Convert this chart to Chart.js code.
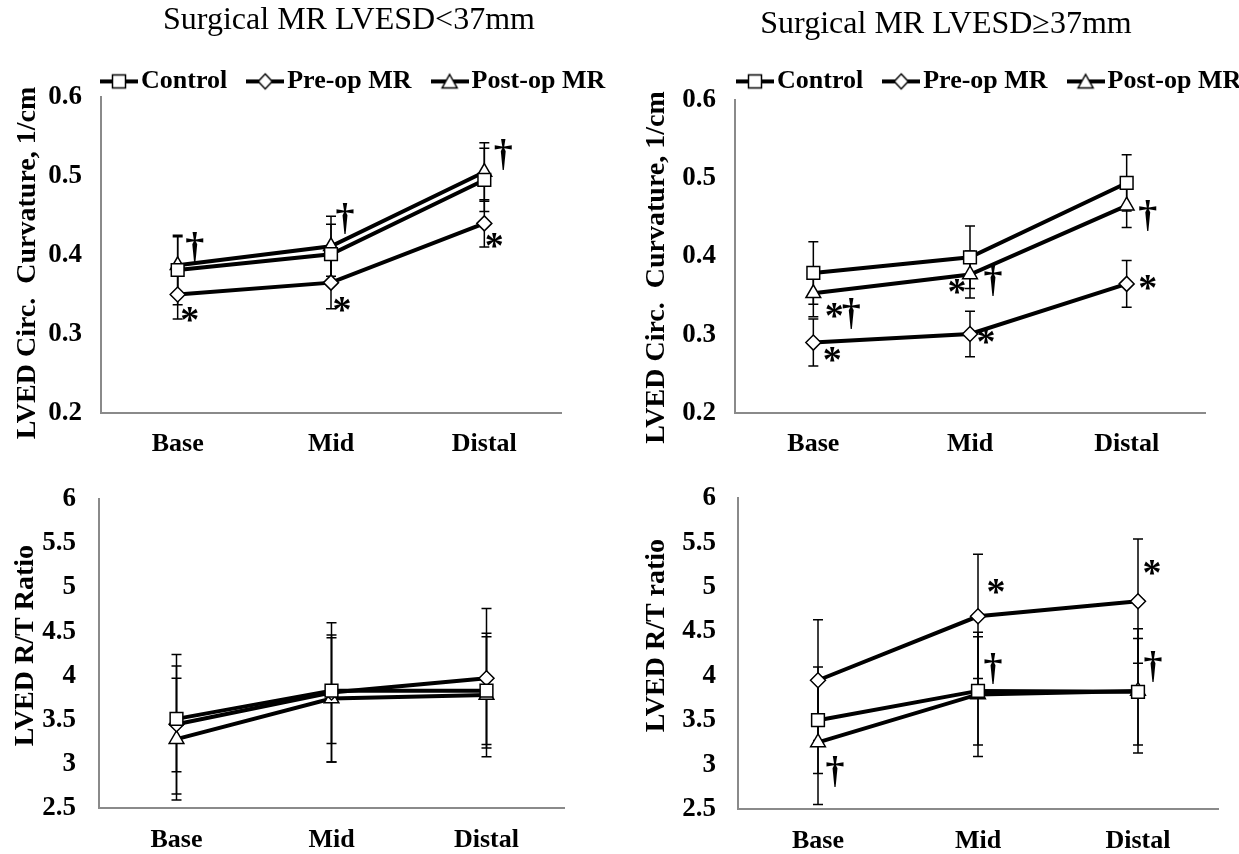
<!DOCTYPE html>
<html>
<head>
<meta charset="utf-8">
<script src="https://cdn.jsdelivr.net/npm/chart.js@4.4.1/dist/chart.umd.min.js"></script>
<style>
html, body { margin:0; padding:0; background:#fff; width:1239px; height:854px; overflow:hidden; position:relative; }
canvas { position:absolute; }
</style>
</head>
<body>
<canvas id="tl" width="620" height="460" style="left:0px;top:0px"></canvas>
<canvas id="tr" width="619" height="460" style="left:620px;top:0px"></canvas>
<canvas id="bl" width="620" height="394" style="left:0px;top:460px"></canvas>
<canvas id="br" width="619" height="394" style="left:620px;top:460px"></canvas>
<script>
// ---------------- data ----------------
const categories = ['Base', 'Mid', 'Distal'];
const seriesNames = ['Control', 'Pre-op MR', 'Post-op MR'];
const curvatureTicks = [0.2, 0.3, 0.4, 0.5, 0.6];
const ratioTicks = [2.5, 3, 3.5, 4, 4.5, 5, 5.5, 6];

// Surgical MR LVESD<37mm : curvature
const curvSmallControl = [0.381, 0.401, 0.495];
const curvSmallControlSD = [0.044, 0.038, 0.040];
const curvSmallPre = [0.350, 0.365, 0.440];
const curvSmallPreSD = [0.031, 0.033, 0.030];
const curvSmallPost = [0.387, 0.411, 0.505];
const curvSmallPostSD = [0.036, 0.038, 0.037];

// Surgical MR LVESD>=37mm : curvature
const curvLargeControl = [0.379, 0.399, 0.494];
const curvLargeControlSD = [0.040, 0.040, 0.036];
const curvLargePre = [0.290, 0.301, 0.365];
const curvLargePreSD = [0.030, 0.029, 0.030];
const curvLargePost = [0.353, 0.377, 0.465];
const curvLargePostSD = [0.030, 0.030, 0.028];

// Surgical MR LVESD<37mm : R/T ratio
const ratioSmallControl = [3.51, 3.83, 3.83];
const ratioSmallControlSD = [0.60, 0.60, 0.61];
const ratioSmallPre = [3.45, 3.81, 3.97];
const ratioSmallPreSD = [0.79, 0.79, 0.79];
const ratioSmallPost = [3.28, 3.74, 3.78];
const ratioSmallPostSD = [0.69, 0.72, 0.70];

// Surgical MR LVESD>=37mm : R/T ratio
const ratioLargeControl = [3.50, 3.83, 3.82];
const ratioLargeControlSD = [0.60, 0.61, 0.60];
const ratioLargePre = [3.95, 4.67, 4.84];
const ratioLargePreSD = [0.68, 0.70, 0.70];
const ratioLargePost = [3.25, 3.79, 3.83];
const ratioLargePostSD = [0.70, 0.70, 0.70];

// significance marks: [series index, category index, symbol]
const marksCurvSmall = [[2,0,'†'],[1,0,'*'],[2,1,'†'],[1,1,'*'],[2,2,'†'],[1,2,'*']];
const marksCurvLarge = [[2,0,'*'],[2,0,'†'],[1,0,'*'],[2,1,'*'],[2,1,'†'],[1,1,'*'],[2,2,'†'],[1,2,'*']];
const marksRatioSmall = [];
const marksRatioLarge = [[2,0,'†'],[1,1,'*'],[2,1,'†'],[1,2,'*'],[2,2,'†']];

// ---------------- styling / helpers ----------------
const FONT = "'Liberation Serif', 'Times New Roman', serif";
Chart.defaults.font.family = FONT;
Chart.defaults.color = '#000';
const AXIS_GRAY = '#8a8a8a';
const pointShapes = ['rect', 'rectRot', 'triangle'];
const pointRadii = [9, 7.5, 8.5];

function legendSymbol(shape) {
  const c = document.createElement('canvas');
  c.width = 38; c.height = 20;
  const g = c.getContext('2d');
  g.strokeStyle = '#000';
  g.lineWidth = 4;
  g.beginPath(); g.moveTo(0, 10); g.lineTo(38, 10); g.stroke();
  g.fillStyle = '#fff';
  g.lineWidth = 1.5;
  g.beginPath();
  if (shape === 'rect') {
    g.rect(12.5, 3.5, 13, 13);
  } else if (shape === 'rectRot') {
    g.moveTo(19, 2.5); g.lineTo(26, 10); g.lineTo(19, 17.5); g.lineTo(12, 10); g.closePath();
  } else {
    g.moveTo(19, 3); g.lineTo(26.5, 16.5); g.lineTo(11.5, 16.5); g.closePath();
  }
  g.fill(); g.stroke();
  return c;
}
const legendImages = pointShapes.map(legendSymbol);

const errorBarPlugin = {
  id: 'errorBars',
  beforeDatasetsDraw(chart, args, opts) {
    const ctx = chart.ctx, xs = chart.scales.x, ys = chart.scales.y;
    ctx.save();
    ctx.strokeStyle = '#000';
    ctx.lineWidth = opts.width || 1.5;
    const cap = opts.cap || 5;
    chart.data.datasets.forEach(ds => {
      if (!ds.errors) return;
      ds.data.forEach((v, j) => {
        const px = xs.getPixelForValue(j);
        const top = ys.getPixelForValue(v + ds.errors[j]);
        const bot = ys.getPixelForValue(v - ds.errors[j]);
        ctx.beginPath();
        ctx.moveTo(px, top); ctx.lineTo(px, bot);
        ctx.moveTo(px - cap, top); ctx.lineTo(px + cap, top);
        ctx.moveTo(px - cap, bot); ctx.lineTo(px + cap, bot);
        ctx.stroke();
      });
    });
    ctx.restore();
  }
};

const marksPlugin = {
  id: 'sigMarks',
  afterDatasetsDraw(chart, args, opts) {
    if (!opts.marks || !opts.marks.length) return;
    const ctx = chart.ctx, xs = chart.scales.x, ys = chart.scales.y;
    ctx.save();
    ctx.fillStyle = '#000';
    ctx.font = 'bold ' + opts.size + 'px ' + FONT;
    ctx.textAlign = 'left';
    ctx.textBaseline = 'alphabetic';
    opts.marks.forEach((m, k) => {
      const [si, ci, sym] = m;
      const off = opts.offsets[k];
      const v = chart.data.datasets[si].data[ci];
      const cx = xs.getPixelForValue(ci) + off[0];
      const cy = ys.getPixelForValue(v) + off[1];
      const mt = ctx.measureText(sym);
      const w = mt.actualBoundingBoxRight + mt.actualBoundingBoxLeft;
      const x = cx - w / 2 + mt.actualBoundingBoxLeft;
      const y = cy + (mt.actualBoundingBoxAscent - mt.actualBoundingBoxDescent) / 2;
      ctx.fillText(sym, x, y);
    });
    ctx.restore();
  }
};

const shiftPlugin = {
  id: 'boxShift',
  afterLayout(chart, args, opts) {
    if (opts.titleDx && chart.titleBlock) {
      chart.titleBlock.left += opts.titleDx;
      chart.titleBlock.right += opts.titleDx;
    }
    if (opts.legendDx && chart.legend) {
      chart.legend.left += opts.legendDx;
      chart.legend.right += opts.legendDx;
    }
    const ys = chart.scales.y;
    const dy = opts.yTitleDy || 0;
    if (ys && dy && !ys._titleShifted) {
      const baseDraw = Object.getPrototypeOf(ys).drawTitle;
      ys.drawTitle = function () {
        const t = this.top, b = this.bottom;
        this.top = t + dy; this.bottom = b + dy;
        baseDraw.call(this);
        this.top = t; this.bottom = b;
      };
      ys._titleShifted = true;
    }
  }
};

function buildPanel(id, cfg) {
  const datasets = seriesNames.map((name, i) => ({
    label: name,
    data: cfg.means[i],
    errors: cfg.sds[i],
    borderColor: '#000',
    backgroundColor: '#fff',
    borderWidth: 4,
    pointStyle: pointShapes[i],
    pointRadius: pointRadii[i],
    pointHoverRadius: pointRadii[i],
    pointBackgroundColor: '#fff',
    pointBorderColor: '#000',
    pointBorderWidth: 1.5,
    fill: false,
    tension: 0
  }));
  return new Chart(document.getElementById(id), {
    type: 'line',
    data: { labels: categories, datasets },
    plugins: [errorBarPlugin, marksPlugin, shiftPlugin],
    options: {
      responsive: false,
      animation: false,
      events: [],
      layout: { padding: { top: cfg.padTop || 0, left: 0, right: 0, bottom: 0 } },
      scales: {
        x: {
          type: 'category',
          offset: true,
          grid: { display: true, drawOnChartArea: false, drawTicks: false },
          border: { display: true, color: AXIS_GRAY, width: 2 },
          ticks: { font: { size: 26, weight: 'bold' }, color: '#000', padding: cfg.xPad, maxRotation: 0, autoSkip: false },
          afterFit(s) { s.height = cfg.xHeight; }
        },
        y: {
          type: 'linear',
          position: 'left',
          min: cfg.ticks[0],
          max: cfg.ticks[cfg.ticks.length - 1],
          afterBuildTicks(s) { s.ticks = cfg.ticks.map(v => ({ value: v })); },
          grid: { display: true, drawOnChartArea: false, drawTicks: false },
          border: { display: true, color: AXIS_GRAY, width: 2 },
          ticks: { font: { size: 27, weight: 'bold' }, color: '#000', padding: cfg.yPad,
                   callback: v => String(Math.round(v * 10) / 10) },
          title: { display: true, text: cfg.yTitle, color: '#000',
                   font: { size: 28, weight: 'bold' }, padding: { top: cfg.yTitlePad, bottom: 0 } },
          afterFit(s) { s.width = cfg.yWidth; }
        },
        yR: {
          type: 'linear',
          position: 'right',
          display: true,
          grid: { display: false, drawTicks: false },
          border: { display: false },
          ticks: { display: false },
          afterFit(s) { s.width = cfg.rightWidth; }
        }
      },
      plugins: {
        title: {
          display: !!cfg.title,
          text: cfg.title || '',
          color: '#000',
          font: { size: 32, weight: 'normal' },
          padding: { top: cfg.titlePadTop || 0, bottom: cfg.titlePadBottom || 0 }
        },
        legend: {
          display: !!cfg.legend,
          position: 'top',
          align: 'start',
          maxHeight: cfg.legendMaxH,
          labels: {
            usePointStyle: true,
            pointStyleWidth: 18,
            padding: 29,
            color: '#000',
            font: { size: 26, weight: 'bold' },
            generateLabels(chart) {
              const items = Chart.defaults.plugins.legend.labels.generateLabels(chart);
              items.forEach((it, i) => { it.pointStyle = legendImages[i]; });
              return items;
            }
          }
        },
        tooltip: { enabled: false },
        errorBars: { width: 1.5, cap: 5 },
        sigMarks: { size: 38, marks: cfg.marks, offsets: cfg.markOffsets },
        boxShift: { titleDx: cfg.titleDx || 0, legendDx: cfg.legendDx || 0, yTitleDy: cfg.yTitleDy || 0 }
      }
    }
  });
}

buildPanel('tl', {
  title: 'Surgical MR LVESD<37mm', legend: true,
  titlePadTop: 1, titlePadBottom: 0, legendMaxH: 57.6,
  titleDx: 39, legendDx: 81,
  means: [curvSmallControl, curvSmallPre, curvSmallPost],
  sds: [curvSmallControlSD, curvSmallPreSD, curvSmallPostSD],
  ticks: curvatureTicks,
  yTitle: 'LVED Circ.  Curvature, 1/cm', yTitlePad: 11, yTitleDy: 8,
  yWidth: 101, rightWidth: 59, xHeight: 47, xPad: 16, yPad: 19,
  marks: marksCurvSmall,
  markOffsets: [[17,-18],[12,20],[14,-28],[11,22],[19,-18],[10,17]]
});

buildPanel('tr', {
  title: 'Surgical MR LVESD≥37mm', legend: true,
  titlePadTop: 5, titlePadBottom: -4, legendMaxH: 60.6,
  titleDx: 16.5, legendDx: 97,
  means: [curvLargeControl, curvLargePre, curvLargePost],
  sds: [curvLargeControlSD, curvLargePreSD, curvLargePostSD],
  ticks: curvatureTicks,
  yTitle: 'LVED Circ.  Curvature, 1/cm', yTitlePad: 20, yTitleDy: 11,
  yWidth: 115, rightWidth: 34, xHeight: 47, xPad: 16, yPad: 19,
  marks: marksCurvLarge,
  markOffsets: [[21,17],[38,20],[19,12],[-13,12],[23,6],[16,3],[21,10],[21,-1]]
});

buildPanel('bl', {
  title: null, legend: false, padTop: 20,
  means: [ratioSmallControl, ratioSmallPre, ratioSmallPost],
  sds: [ratioSmallControlSD, ratioSmallPreSD, ratioSmallPostSD],
  ticks: ratioTicks,
  yTitle: 'LVED R/T Ratio', yTitlePad: 9, yTitleDy: -8,
  yWidth: 99, rightWidth: 56, xHeight: 46, xPad: 17, yPad: 23,
  marks: marksRatioSmall, markOffsets: []
});

buildPanel('br', {
  title: null, legend: false, padTop: 22,
  means: [ratioLargeControl, ratioLargePre, ratioLargePost],
  sds: [ratioLargeControlSD, ratioLargePreSD, ratioLargePostSD],
  ticks: ratioTicks,
  yTitle: 'LVED R/T ratio', yTitlePad: 20, yTitleDy: -18,
  yWidth: 118, rightWidth: 21, xHeight: 45, xPad: 17, yPad: 22,
  marks: marksRatioLarge,
  markOffsets: [[17,29],[18,-30],[15,-26],[14,-34],[15,-24]]
});
</script>
</body>
</html>
